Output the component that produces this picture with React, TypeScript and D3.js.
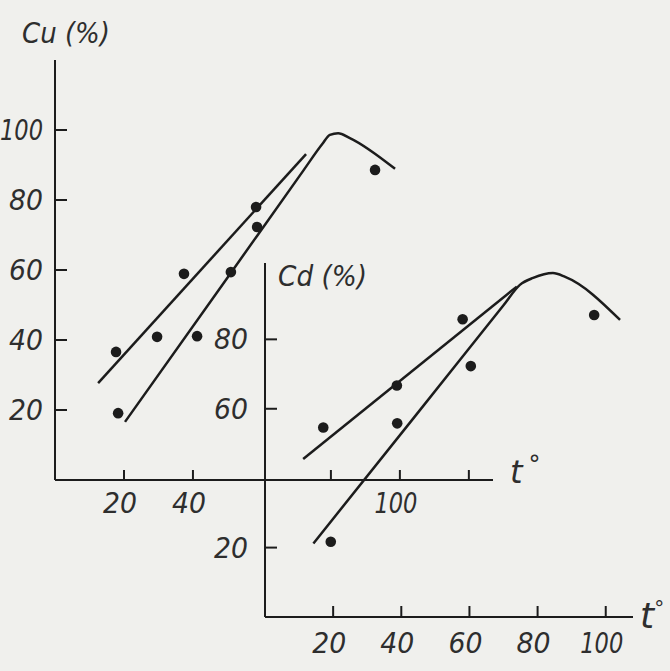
import * as d3 from "d3";

// Cu (%) vs t° — upper-left panel
const cuPointsX = [17.7, 18.3, 29.6, 41.2, 37.4, 51.0, 58.3, 58.6, 92.8];
const cuPointsY = [36.6, 19.1, 40.9, 41.1, 58.9, 59.4, 78.0, 72.3, 88.6];
const cuUpperLineX = [12.5, 72.8];
const cuUpperLineY = [27.7, 93.1];
const cuPeakLineX = [20.3, 50.0, 72.0, 77.5, 79.7, 82.1, 85.5, 98.6];
const cuPeakLineY = [16.6, 57.8, 88.4, 96.0, 98.6, 99.1, 97.7, 88.9];
const cuYTicks = [20, 40, 60, 80, 100];
const cuXTicks = [20, 40, 80, 100, 120];
const cuXTickLabels = [20, 40, 100];

// Cd (%) vs t° — lower-right panel
const cdPointsX = [17.1, 19.3, 38.7, 38.8, 58.0, 60.4, 96.6];
const cdPointsY = [54.6, 21.7, 66.7, 55.8, 85.8, 72.3, 87.0];
const cdUpperLineX = [11.2, 73.9];
const cdUpperLineY = [45.5, 95.2];
const cdPeakLineX = [14.2, 44.0, 70.0, 74.8, 78.7, 84.5, 88.1, 104.2];
const cdPeakLineY = [21.2, 57.8, 89.8, 95.7, 97.7, 99.1, 98.0, 85.6];
const cdYTicks = [20, 60, 80];
const cdXTicks = [20, 40, 60, 80, 100];

const INK = "#1c1c1c";
const TEXT = "#2e2e2e";
const FONT = "'DejaVu Sans', sans-serif";

const zip = (xs: number[], ys: number[]) => xs.map((x, i) => [x, ys[i]] as [number, number]);
// hand-lettered digits are narrow: fit each label to its width
const numWidth = (t: number) => (String(t).length > 2 ? 43 : 34);

export default function App() {
  const cuX = d3.scaleLinear().domain([0, 127]).range([55, 493]);
  const cuY = d3.scaleLinear().domain([0, 120]).range([480, 60]);
  const cdX = d3.scaleLinear().domain([0, 108]).range([265, 633]);
  const cdY = d3.scaleLinear().domain([0, 102]).range([617, 263]);

  const cuLine = d3.line<[number, number]>().x((d) => cuX(d[0])).y((d) => cuY(d[1]));
  const cdLine = d3.line<[number, number]>().x((d) => cdX(d[0])).y((d) => cdY(d[1]));
  const cuCurve = d3
    .line<[number, number]>()
    .x((d) => cuX(d[0]))
    .y((d) => cuY(d[1]))
    .curve(d3.curveMonotoneX);
  const cdCurve = d3
    .line<[number, number]>()
    .x((d) => cdX(d[0]))
    .y((d) => cdY(d[1]))
    .curve(d3.curveMonotoneX);

  const numStyle = {
    fontFamily: FONT,
    fontStyle: "italic",
    fontSize: "28px",
    fill: TEXT,
  } as const;

  return (
    <svg
      width={670}
      height={671}
      viewBox="0 0 670 671"
      style={{ position: "absolute", left: 0, top: 0, background: "#f0f0ed" }}
    >
      <rect width={670} height={671} fill="#f0f0ed" />

      {/* Cu axes */}
      <line x1={cuX(0)} y1={cuY(0)} x2={cuX(0)} y2={cuY(120)} stroke={INK} strokeWidth={2} />
      <line x1={cuX(0)} y1={cuY(0)} x2={cuX(127)} y2={cuY(0)} stroke={INK} strokeWidth={2} />
      {cuYTicks.map((t) => (
        <g key={`cuy-${t}`}>
          <line x1={cuX(0)} y1={cuY(t)} x2={cuX(0) + 12} y2={cuY(t)} stroke={INK} strokeWidth={2} />
          <text
            x={cuX(0) - 12}
            y={cuY(t)}
            dy="0.36em"
            textAnchor="end"
            textLength={numWidth(t)}
            lengthAdjust="spacingAndGlyphs"
            style={numStyle}
          >
            {t}
          </text>
        </g>
      ))}
      {cuXTicks.map((t) => (
        <line key={`cux-${t}`} x1={cuX(t)} y1={cuY(0)} x2={cuX(t)} y2={cuY(0) - 10} stroke={INK} strokeWidth={2} />
      ))}
      {cuXTickLabels.map((t) => (
        <text
          key={`cuxl-${t}`}
          x={cuX(t) - 4}
          y={cuY(0) + 33}
          textAnchor="middle"
          textLength={numWidth(t)}
          lengthAdjust="spacingAndGlyphs"
          style={numStyle}
        >
          {t}
        </text>
      ))}
      <text x={22} y={43} textLength={88} lengthAdjust="spacingAndGlyphs" style={{ ...numStyle, fontSize: "29px" }}>
        Cu (%)
      </text>
      <text x={510} y={483} style={{ ...numStyle, fontSize: "32px" }}>
        t<tspan dx={6} dy={-10} fontSize="24px">°</tspan>
      </text>

      {/* Cd axes */}
      <line x1={cdX(0)} y1={cdY(0)} x2={cdX(0)} y2={cdY(102)} stroke={INK} strokeWidth={2} />
      <line x1={cdX(0)} y1={cdY(0)} x2={cdX(108)} y2={cdY(0)} stroke={INK} strokeWidth={2} />
      {cdYTicks.map((t) => (
        <g key={`cdy-${t}`}>
          <line x1={cdX(0)} y1={cdY(t)} x2={cdX(0) + 12} y2={cdY(t)} stroke={INK} strokeWidth={2} />
          <text
            x={cdX(0) - 17}
            y={cdY(t)}
            dy="0.36em"
            textAnchor="end"
            textLength={numWidth(t)}
            lengthAdjust="spacingAndGlyphs"
            style={numStyle}
          >
            {t}
          </text>
        </g>
      ))}
      {cdXTicks.map((t) => (
        <g key={`cdx-${t}`}>
          <line x1={cdX(t)} y1={cdY(0)} x2={cdX(t)} y2={cdY(0) - 11} stroke={INK} strokeWidth={2} />
          <text
            x={cdX(t) - 4}
            y={cdY(0) + 36}
            textAnchor="middle"
            textLength={numWidth(t)}
            lengthAdjust="spacingAndGlyphs"
            style={numStyle}
          >
            {t}
          </text>
        </g>
      ))}
      <text x={278} y={286} textLength={89} lengthAdjust="spacingAndGlyphs" style={{ ...numStyle, fontSize: "29px" }}>
        Cd (%)
      </text>
      <text x={640} y={628} style={{ ...numStyle, fontSize: "36px" }}>
        t<tspan dx={0} dy={-13} fontSize="20px">°</tspan>
      </text>

      {/* Cu fits */}
      <path d={cuLine(zip(cuUpperLineX, cuUpperLineY)) ?? ""} fill="none" stroke={INK} strokeWidth={2.5} />
      <path d={cuCurve(zip(cuPeakLineX, cuPeakLineY)) ?? ""} fill="none" stroke={INK} strokeWidth={2.5} />
      {zip(cuPointsX, cuPointsY).map(([x, y], i) => (
        <circle key={`cup-${i}`} cx={cuX(x)} cy={cuY(y)} r={5.3} fill={INK} />
      ))}

      {/* Cd fits */}
      <path d={cdLine(zip(cdUpperLineX, cdUpperLineY)) ?? ""} fill="none" stroke={INK} strokeWidth={2.5} />
      <path d={cdCurve(zip(cdPeakLineX, cdPeakLineY)) ?? ""} fill="none" stroke={INK} strokeWidth={2.5} />
      {zip(cdPointsX, cdPointsY).map(([x, y], i) => (
        <circle key={`cdp-${i}`} cx={cdX(x)} cy={cdY(y)} r={5.3} fill={INK} />
      ))}
    </svg>
  );
}
